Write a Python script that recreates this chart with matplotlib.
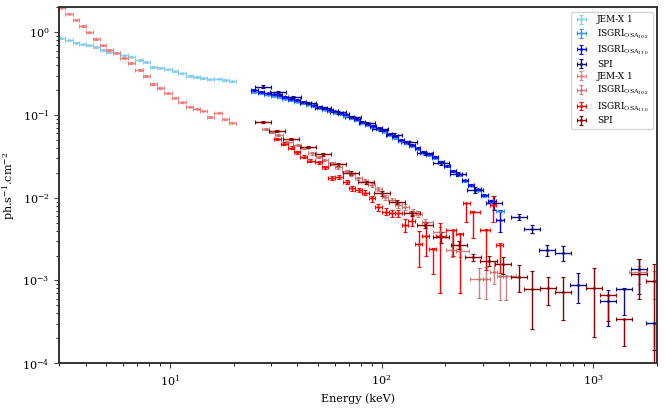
import numpy as np
import matplotlib.pyplot as plt

plt.rcParams['font.family'] = ['DejaVu Serif']
plt.rcParams['mathtext.fontset'] = 'dejavuserif'

# ---- source 1 (blue) ----
jemx_e = [3.07, 3.34, 3.60, 3.87, 4.16, 4.48, 4.85, 5.18, 5.57, 6.10, 6.57, 7.20, 7.75,
          8.33, 9.03, 9.82, 10.57, 11.37, 12.45, 13.4, 14.4, 15.5, 17.0, 18.3, 19.7]
jemx_blue = [0.846, 0.80, 0.743, 0.716, 0.70, 0.664, 0.611, 0.578, 0.567, 0.527, 0.507, 0.462, 0.437,
             0.38, 0.373, 0.356, 0.337, 0.319, 0.296, 0.288, 0.28, 0.27, 0.275, 0.265, 0.255]

isgri_e = [25, 27, 29, 31, 33, 35, 37.5, 40, 42.5, 45, 48, 51, 54, 57, 60.5, 64, 68, 72, 76.5, 81,
           86, 91, 97, 103, 109, 116, 123, 131, 139, 148, 157, 167, 178, 190, 203, 217, 232, 248,
           265, 284, 305, 330, 362]
isgri10_blue = [0.188, 0.182, 0.176, 0.170, 0.163, 0.158, 0.150, 0.145, 0.139, 0.133, 0.127, 0.121,
                0.116, 0.112, 0.107, 0.102, 0.097, 0.092, 0.087, 0.081, 0.076, 0.072, 0.067, 0.063,
                0.058, 0.053, 0.049, 0.046, 0.042, 0.039, 0.035, 0.033, 0.030, 0.027, 0.024, 0.0208,
                0.0188, 0.0160, 0.0140, 0.0122, 0.0104, 0.0088, 0.0069]
isgri11_blue = [0.200, 0.190, 0.183, 0.178, 0.174, 0.166, 0.158, 0.151, 0.145, 0.138, 0.131, 0.126,
                0.121, 0.116, 0.111, 0.106, 0.102, 0.095, 0.089, 0.083, 0.078, 0.074, 0.070, 0.065,
                0.059, 0.055, 0.050, 0.047, 0.0435, 0.040, 0.036, 0.034, 0.031, 0.027, 0.0245, 0.021,
                0.0192, 0.0162, 0.0142, 0.0126, 0.0108, 0.0092, 0.0054]
isgri11_blue_lo = [None] * 42 + [0.0039]
isgri11_blue_hi = [None] * 42 + [0.0071]

spi_blue_e = [27.4, 32.5, 38, 45, 53, 62, 73, 85, 98, 115, 135, 160, 190, 230, 275, 340, 445, 514,
              605, 719, 849, 1178, 1390, 1637, 1931]
spi_blue = [0.22, 0.19, 0.165, 0.14, 0.121, 0.108, 0.094, 0.080, 0.067, 0.057, 0.047, 0.0345, 0.0265,
            0.0195, 0.0125, 0.0087, 0.0059, 0.0042, 0.00231, 0.00213, 0.00088, 0.00057, 0.00079,
            0.00139, 0.000308]
spi_blue_lo = [0.212, 0.183, 0.159, 0.135, 0.117, 0.104, 0.091, 0.077, 0.064, 0.054, 0.045, 0.0328,
               0.0250, 0.0183, 0.0115, 0.0071, 0.0054, 0.0037, 0.0020, 0.0017, 0.00054, 0.00028,
               0.00038, 0.00068, 0.000145]
spi_blue_hi = [0.228, 0.197, 0.171, 0.145, 0.125, 0.112, 0.097, 0.083, 0.070, 0.060, 0.049, 0.0362,
               0.0280, 0.0207, 0.0135, 0.0105, 0.0064, 0.0047, 0.00266, 0.0026, 0.00123, 0.00077,
               0.00080, 0.00184, 0.00031]

# ---- source 2 (red) ----
jemx_red = [1.98, 1.68, 1.41, 1.19, 1.0, 0.83, 0.70, 0.61, 0.567, 0.489, 0.425, 0.35, 0.296,
            0.237, 0.212, 0.183, 0.161, 0.142, 0.126, 0.119, 0.113, 0.0946, 0.107, 0.0887, 0.0807]

isgri10_red_e = [28.3, 30.5, 32.4, 35.9, 40.2, 43.2, 47.0, 50.7, 53.6, 58.1, 62.2, 68.5, 72, 77.5,
                 83.5, 89.7, 96.5, 104, 111.5, 120, 129, 141, 149, 161, 189, 216, 234, 290, 313,
                 341, 362, 389, 1637, 1931]
isgri10_red = [0.0677, 0.0618, 0.0573, 0.0475, 0.043, 0.0395, 0.0344, 0.0313, 0.0286, 0.026, 0.0233,
               0.021, 0.0192, 0.0172, 0.0161, 0.0143, 0.0126, 0.0101, 0.0094, 0.0081, 0.0078, 0.0068,
               0.00635, 0.0051, 0.0039, 0.00233, 0.0023, 0.00103, 0.00103, 0.00127, 0.00113, 0.00113,
               0.00125, 0.00098]
isgri10_red_lo = [0.0657, 0.0600, 0.0556, 0.0461, 0.0417, 0.0383, 0.0333, 0.0303, 0.0277, 0.0251,
                  0.0225, 0.0202, 0.0184, 0.0165, 0.0154, 0.0136, 0.0119, 0.0095, 0.0088, 0.0075,
                  0.0072, 0.0062, 0.0058, 0.0046, 0.0034, 0.00193, 0.0019, 0.00061, 0.0006, 0.0009,
                  0.000575, 0.000575, 0.0009, 0.0006]
isgri10_red_hi = [0.0697, 0.0636, 0.0590, 0.0489, 0.0443, 0.0407, 0.0355, 0.0323, 0.0295, 0.0269,
                  0.0241, 0.0218, 0.0200, 0.0179, 0.0168, 0.0150, 0.0133, 0.0107, 0.0100, 0.0087,
                  0.0084, 0.0074, 0.0069, 0.0056, 0.0044, 0.0041, 0.0027, 0.00141, 0.00145, 0.0017,
                  0.00113, 0.00113, 0.0015, 0.0013]

isgri11_red_e = [32.2, 34.6, 37.6, 39.8, 42.9, 46.0, 50.8, 54.2, 58.1, 62.6, 68.5, 72.5, 77.8, 83.9,
                 90.3, 96.5, 105, 112, 120, 129, 139, 150, 162, 174, 188, 217, 234, 251, 270, 313,
                 335, 362]
isgri11_red = [0.0513, 0.045, 0.0403, 0.0354, 0.0313, 0.028, 0.0268, 0.0233, 0.0172, 0.018, 0.0155,
               0.013, 0.0124, 0.0115, 0.0098, 0.0077, 0.0068, 0.0065, 0.0065, 0.0047, 0.0053, 0.00275,
               0.00344, 0.0024, 0.0034, 0.0041, 0.0036, 0.00855, 0.0068, 0.0041, 0.0081, 0.00268]
isgri11_red_lo = [0.0495, 0.0434, 0.0388, 0.0340, 0.0300, 0.0268, 0.0256, 0.0222, 0.0163, 0.0170,
                  0.0146, 0.0122, 0.0116, 0.0107, 0.0090, 0.0070, 0.0061, 0.0058, 0.0058, 0.0039,
                  0.0045, 0.00146, 0.00197, 0.0012, 0.00071, 0.00197, 0.00071, 0.0051, 0.00323,
                  0.00134, 0.0051, 0.00122]
isgri11_red_hi = [0.0531, 0.0466, 0.0418, 0.0368, 0.0326, 0.0292, 0.0280, 0.0244, 0.0181, 0.0190,
                  0.0164, 0.0138, 0.0132, 0.0123, 0.0106, 0.0084, 0.0075, 0.0072, 0.0072, 0.0055,
                  0.0061, 0.0040, 0.0049, 0.0025, 0.0049, 0.0041, 0.0037, 0.0087, 0.0069, 0.0042,
                  0.0105, 0.0028]

spi_red_e = [27.4, 32.2, 37.3, 44.8, 52.7, 62.2, 72, 84.5, 100, 118, 139, 161, 191, 231, 270, 320,
             375, 444, 513, 610, 719, 1004, 1178, 1390, 1637, 1931]
spi_red = [0.0816, 0.0646, 0.0517, 0.041, 0.0335, 0.0255, 0.0199, 0.0153, 0.0113, 0.0089, 0.0065,
           0.0047, 0.00338, 0.00268, 0.0019, 0.00174, 0.00157, 0.00111, 0.00078, 0.0008, 0.00072,
           0.0008, 0.000666, 0.000339, 0.00119, 0.00098]
spi_red_lo = [0.0795, 0.0628, 0.0502, 0.0397, 0.0323, 0.0245, 0.0190, 0.0145, 0.0106, 0.0083, 0.0060,
              0.0043, 0.0028, 0.0024, 0.0017, 0.0015, 0.0012, 0.00072, 0.000256, 0.00051, 0.000335,
              0.000205, 0.000324, 0.000161, 0.00059, 0.00005]
spi_red_hi = [0.0837, 0.0664, 0.0532, 0.0423, 0.0347, 0.0265, 0.0208, 0.0161, 0.0120, 0.0095, 0.0070,
              0.0051, 0.0039, 0.0030, 0.0021, 0.0020, 0.0019, 0.00154, 0.00131, 0.00109, 0.0011,
              0.00143, 0.000670, 0.000342, 0.00184, 0.0016]


def edges_err(e):
    # half bin width from geometric midpoints between neighbouring bins
    e = np.asarray(e, float)
    lr = np.log10(e)
    mid = (lr[1:] + lr[:-1]) / 2
    lo = np.concatenate([[lr[0] - (mid[0] - lr[0])], mid])
    hi = np.concatenate([mid, [lr[-1] + (lr[-1] - mid[-1])]])
    lo = np.maximum(lo, lr - 0.045)
    hi = np.minimum(hi, lr + 0.045)
    return [e - 10 ** lo, 10 ** hi - e]


def spi_err(e, half=0.038):
    e = np.asarray(e, float)
    return [e - e / 10 ** half, e * 10 ** half - e]


def yerr_from(v, lo, hi, rel=0.03):
    v = np.asarray(v, float)
    lo = np.array([x if x is not None else np.nan for x in lo], float)
    hi = np.array([x if x is not None else np.nan for x in hi], float)
    lo = np.where(np.isnan(lo), v * (1 - rel), lo)
    hi = np.where(np.isnan(hi), v * (1 + rel), hi)
    return [v - lo, hi - v]


fig, ax = plt.subplots(figsize=(6.65, 4.09), dpi=100)
fig.subplots_adjust(left=0.089, right=0.988, bottom=0.112, top=0.982)

kw = dict(fmt='.', markersize=2, capsize=1.3, elinewidth=1.0, capthick=0.8)

n_j = len(jemx_e)
n_i = len(isgri_e)
ax.errorbar(jemx_e, jemx_blue, xerr=edges_err(jemx_e),
            yerr=yerr_from(jemx_blue, [None] * n_j, [None] * n_j, 0.015),
            color='skyblue', label='JEM-X 1', **kw)
ax.errorbar(isgri_e, isgri10_blue, xerr=edges_err(isgri_e),
            yerr=yerr_from(isgri10_blue, [None] * n_i, [None] * n_i, 0.02),
            color='#3a93f0', label=r'ISGRI$_{\mathrm{OSA}_{10.2}}$', **kw)
ax.errorbar(isgri_e, isgri11_blue, xerr=edges_err(isgri_e),
            yerr=yerr_from(isgri11_blue, isgri11_blue_lo, isgri11_blue_hi, 0.02),
            color='blue', label=r'ISGRI$_{\mathrm{OSA}_{11.0}}$', **kw)
ax.errorbar(spi_blue_e, spi_blue, xerr=spi_err(spi_blue_e),
            yerr=yerr_from(spi_blue, spi_blue_lo, spi_blue_hi),
            color='#0b0b85', label='SPI', **kw)

ax.errorbar(jemx_e, jemx_red, xerr=edges_err(jemx_e),
            yerr=yerr_from(jemx_red, [None] * n_j, [None] * n_j, 0.015),
            color='lightcoral', label='JEM-X 1', **kw)
ax.errorbar(isgri10_red_e, isgri10_red, xerr=edges_err(isgri10_red_e),
            yerr=yerr_from(isgri10_red, isgri10_red_lo, isgri10_red_hi),
            color='#c86a6a', alpha=0.85, label=r'ISGRI$_{\mathrm{OSA}_{10.2}}$', **kw)
ax.errorbar(isgri11_red_e, isgri11_red, xerr=edges_err(isgri11_red_e),
            yerr=yerr_from(isgri11_red, isgri11_red_lo, isgri11_red_hi),
            color='red', label=r'ISGRI$_{\mathrm{OSA}_{11.0}}$', **kw)
ax.errorbar(spi_red_e, spi_red, xerr=spi_err(spi_red_e),
            yerr=yerr_from(spi_red, spi_red_lo, spi_red_hi),
            color='darkred', label='SPI', **kw)

ax.set_xscale('log')
ax.set_yscale('log')
ax.set_xlim(3, 2000)
ax.set_ylim(1e-4, 2)
ax.set_xlabel('Energy (keV)', fontsize=8)
ax.set_ylabel(r'ph.s$^{-1}$.cm$^{-2}$', fontsize=8)
ax.tick_params(labelsize=8, color='#444444')
for s in ax.spines.values():
    s.set_color('#333333')
    s.set_linewidth(1.4)

ax.legend(loc='upper right', fontsize=6.4, labelspacing=0.32, handlelength=1.5,
          handletextpad=1.0, borderaxespad=0.5)

plt.savefig('out.png', dpi=100)
